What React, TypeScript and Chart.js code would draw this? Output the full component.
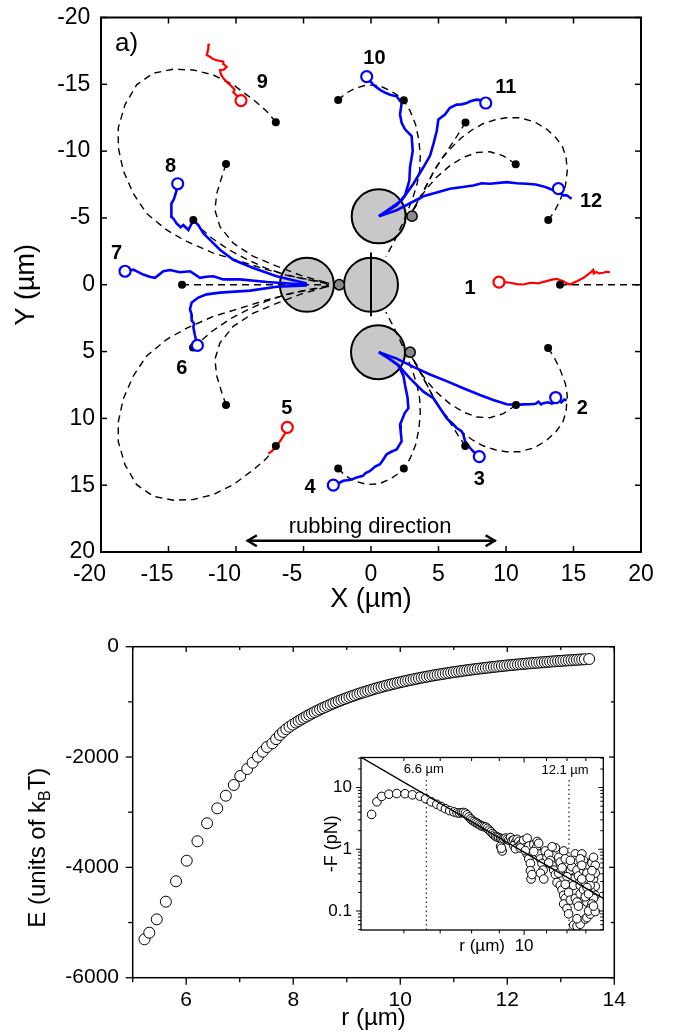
import React, { useEffect, useRef } from 'react';
import { Chart, registerables } from 'chart.js';

Chart.register(...registerables);

const SANS = '"Liberation Sans", Arial, Helvetica, sans-serif';
Chart.defaults.font.family = SANS;
Chart.defaults.color = '#000';

// ================= Panel a) : trajectories =================
const axisTicksA = [-20, -15, -10, -5, 0, 5, 10, 15, 20];

const diskX = [0, -4.75, 0.57, 0.52];
const diskY = [0, 0, -5.12, 5.05];
const diskRadius = [2, 2, 2, 2];

const beadX = [-2.35, 3.04, 2.9];
const beadY = [0, -5.13, 5.05];
const beadRadius = [0.38, 0.38, 0.38];

const dividerLine = [[0, -2.42], [0, 2.35]];

const startDotX = [14, 13.13, 10.72, 7.0, 2.43, -2.43, -7.05, -10.74, -13.16, -14, -13.18, -10.74, -7.05, -2.43, 2.43, 6.98, 10.74, 13.12];
const startDotY = [0, -4.84, -9.02, -12.15, -13.8, -13.82, -12.17, -9.04, -4.84, 0, 4.7, 8.99, 12.07, 13.75, 13.75, 12.07, 9.0, 4.74];

// dashed (theoretical) paths
const dash1 = [[14, 0], [20, 0]];
const dash12b = [[13.13, -4.84], [13.6, -5.5], [14.0, -6.32], [14.4, -7.4], [14.54, -8.54], [14.45, -9.5], [14.2, -10.3], [13.7, -11.0], [13.0, -11.65], [12.1, -12.2], [11.0, -12.5], [10.0, -12.5], [9.2, -12.35], [8.3, -12.05], [7.5, -11.6], [6.7, -11.0], [6.0, -10.3], [5.3, -9.5], [4.7, -8.6], [4.2, -7.6], [3.8, -6.8], [3.4, -6.0], [3.05, -5.45]];
const dash12a = [[10.72, -9.02], [9.8, -9.65], [8.81, -9.95], [7.83, -9.9], [6.84, -9.53], [5.85, -8.91], [4.86, -8.05], [4.12, -7.19], [3.5, -6.32], [3.1, -5.55]];
const dash11 = [[7.0, -12.15], [6.6, -11.5], [6.1, -10.7], [5.5, -9.8], [4.9, -8.9], [4.35, -7.9], [3.85, -6.95], [3.4, -6.1], [3.05, -5.5]];
const dash10 = [[-2.43, -13.82], [-1.9, -14.3], [-1.2, -14.7], [-0.3, -14.95], [0.6, -14.9], [1.4, -14.55], [2.0, -14.15], [2.43, -13.8], [2.9, -13.0], [3.3, -12.0], [3.55, -10.8], [3.65, -9.6], [3.6, -8.5], [3.4, -7.5], [3.1, -6.5], [2.75, -5.6], [2.3, -4.5], [1.75, -3.3], [1.1, -2.1]];
const dash9 = [[-7.05, -12.17], [-7.73, -12.99], [-8.72, -13.85], [-10.2, -14.96], [-11.68, -15.7], [-13.16, -16.07], [-14.64, -16.13], [-16.13, -15.83], [-17.36, -14.96], [-18.22, -13.48], [-18.72, -11.75], [-18.72, -10.27], [-18.35, -8.54], [-17.6, -6.81], [-16.62, -5.33], [-15.14, -4.1], [-13.65, -3.24], [-11.68, -2.37], [-9.7, -1.76], [-7.73, -1.13], [-5.5, -0.55], [-3.1, -0.12]];
const dash8b = [[-10.74, -9.04], [-11.06, -8.05], [-11.43, -6.81], [-11.56, -5.58], [-11.19, -4.35], [-10.2, -3.11], [-8.72, -2.13], [-6.99, -1.39], [-5.2, -0.7], [-3.1, -0.1]];
const dash8a = [[-13.16, -4.84], [-12.6, -4.2], [-11.8, -3.5], [-10.5, -2.6], [-9.2, -1.9], [-7.8, -1.25], [-6.2, -0.7], [-3.1, -0.05]];
const dash7 = [[-14, 0], [-3.1, 0]];
const dash6a = [[-13.18, 4.7], [-12.6, 4.2], [-11.8, 3.5], [-10.5, 2.6], [-9.2, 1.9], [-7.8, 1.25], [-6.2, 0.7], [-3.1, 0.05]];
const dash6b = [[-10.74, 8.99], [-11.06, 8.05], [-11.43, 6.81], [-11.56, 5.58], [-11.19, 4.35], [-10.2, 3.11], [-8.72, 2.13], [-6.99, 1.39], [-5.2, 0.7], [-3.1, 0.1]];
const dash5 = [[-7.05, 12.07], [-7.73, 12.99], [-8.72, 13.85], [-10.2, 14.96], [-11.68, 15.7], [-13.16, 16.07], [-14.64, 16.13], [-16.13, 15.83], [-17.36, 14.96], [-18.22, 13.48], [-18.72, 11.75], [-18.72, 10.27], [-18.35, 8.54], [-17.6, 6.81], [-16.62, 5.33], [-15.14, 4.1], [-13.65, 3.24], [-11.68, 2.37], [-9.7, 1.76], [-7.73, 1.13], [-5.5, 0.55], [-3.1, 0.12]];
const dash4 = [[-2.43, 13.75], [-1.9, 14.3], [-1.2, 14.7], [-0.3, 14.95], [0.6, 14.9], [1.4, 14.55], [2.0, 14.15], [2.43, 13.75], [2.9, 13.0], [3.3, 12.0], [3.55, 10.8], [3.65, 9.6], [3.6, 8.5], [3.4, 7.5], [3.1, 6.5], [2.75, 5.6], [2.3, 4.5], [1.75, 3.3], [1.1, 2.05]];
const dash3 = [[6.98, 12.07], [6.6, 11.5], [6.1, 10.7], [5.5, 9.8], [4.9, 8.9], [4.35, 7.9], [3.85, 6.95], [3.4, 6.1], [3.05, 5.45]];
const dash2a = [[10.74, 9.0], [9.8, 9.65], [8.81, 9.95], [7.83, 9.9], [6.84, 9.53], [5.85, 8.91], [4.86, 8.05], [4.12, 7.19], [3.5, 6.32], [3.05, 5.45]];
const dash2b = [[13.12, 4.74], [13.6, 5.5], [14.0, 6.32], [14.4, 7.4], [14.54, 8.3], [14.45, 9.5], [14.2, 10.3], [13.7, 11.0], [13.0, 11.65], [12.1, 12.2], [11.0, 12.5], [10.0, 12.5], [9.2, 12.35], [8.3, 12.05], [7.5, 11.6], [6.7, 11.0], [6.0, 10.3], [5.3, 9.5], [4.7, 8.6], [4.2, 7.6], [3.8, 6.8], [3.4, 6.0], [3.0, 5.4]];

// measured trajectories
const traj1 = [[9.48, -0.2], [9.9, -0.2], [10.3, -0.15], [10.8, -0.05], [11.3, -0.02], [11.7, -0.12], [12.0, -0.15], [12.4, -0.1], [12.8, -0.22], [13.0, -0.27], [13.4, -0.38], [13.75, -0.44], [14.0, -0.35], [14.25, -0.27], [14.5, -0.1], [14.75, -0.02], [15.0, -0.15], [15.25, -0.27], [15.5, -0.4], [15.75, -0.52], [16.1, -0.8], [16.3, -0.95], [16.45, -1.1], [16.5, -0.85], [16.7, -0.95], [16.9, -0.85], [17.2, -0.9], [17.45, -0.97], [17.7, -0.94]];
const traj5 = [[-6.2, 10.67], [-6.35, 11.1], [-6.6, 11.5], [-6.9, 11.95], [-7.1, 12.2], [-7.35, 12.45], [-7.6, 12.64]];
const traj9 = [[-9.63, -13.78], [-9.9, -14.1], [-10.2, -14.4], [-10.1, -14.6], [-10.44, -14.96], [-10.7, -15.2], [-10.94, -15.46], [-11.1, -15.7], [-11.19, -16.07], [-10.9, -16.1], [-10.69, -16.3], [-10.9, -16.5], [-10.94, -16.7], [-11.2, -16.75], [-11.43, -16.8], [-11.7, -16.9], [-11.93, -17.06], [-12.17, -17.2], [-12.1, -17.43], [-12.05, -17.7], [-12.05, -17.93], [-11.93, -18.0]];
const traj2 = [[0.59, 5.04], [1.9, 5.53], [3.14, 6.15], [4.37, 6.72], [5.6, 7.21], [6.84, 7.75], [8.07, 8.25], [9.06, 8.62], [10.05, 8.94], [10.79, 8.99], [11.3, 8.95], [11.78, 8.94], [12.2, 8.9], [12.4, 8.75], [12.6, 8.95], [12.77, 8.86], [13.1, 8.8], [13.4, 8.9], [13.75, 8.74], [13.9, 8.6], [14.1, 8.8], [14.3, 8.6], [14.5, 8.62]];
const traj3 = [[0.59, 5.04], [1.3, 5.5], [2.02, 6.02], [2.89, 7.01], [3.88, 8.0], [4.62, 8.49], [5.11, 9.24], [5.6, 9.98], [6.35, 10.72], [6.7, 10.95], [6.84, 11.21], [6.96, 11.7], [7.33, 12.2], [7.6, 12.5], [7.83, 12.69], [8.02, 12.86]];
const traj4 = [[0.59, 5.04], [1.3, 5.5], [2.02, 6.02], [2.4, 6.8], [2.52, 7.5], [2.7, 8.4], [2.77, 9.24], [2.5, 9.6], [2.15, 10.47], [2.2, 11.0], [2.27, 11.7], [1.9, 12.32], [1.5, 12.5], [1.16, 12.69], [0.9, 13.1], [0.67, 13.43], [0.3, 13.6], [-0.07, 13.93], [-0.4, 14.1], [-0.6, 14.3], [-1.06, 14.42], [-1.5, 14.6], [-2.05, 14.67], [-2.4, 14.85], [-2.79, 14.99]];
const traj6 = [[-4.76, 0.05], [-6.99, 0.15], [-8.96, 0.44], [-11.19, 0.59], [-12.17, 0.72], [-12.79, 0.96], [-13.28, 1.33], [-13.41, 1.83], [-13.3, 2.2], [-13.28, 2.69], [-13.1, 2.9], [-13.16, 3.19], [-13.04, 3.8], [-12.86, 4.54]];
const traj7 = [[-4.76, 0], [-7.7, -0.2], [-9.7, -0.4], [-10.94, -0.4], [-11.68, -0.64], [-12.2, -0.6], [-12.67, -0.52], [-13.4, -1.01], [-14.15, -0.94], [-14.9, -1.1], [-15.38, -1.01], [-16.0, -0.52], [-16.4, -0.6], [-16.87, -0.76], [-17.6, -1.13], [-18.22, -1.01]];
const traj8 = [[-4.76, -0.1], [-6.99, -0.64], [-8.72, -1.26], [-10.2, -1.87], [-11.19, -2.62], [-11.93, -3.36], [-12.42, -3.85], [-12.79, -4.47], [-13.16, -4.84], [-13.53, -4.1], [-13.9, -4.47], [-14.1, -4.3], [-14.4, -4.59], [-14.6, -4.9], [-14.77, -5.09], [-14.8, -5.6], [-14.77, -6.07], [-14.6, -6.4], [-14.4, -7.06], [-14.32, -7.56]];
const traj10 = [[0.59, -5.13], [1.9, -5.95], [2.52, -6.69], [2.84, -7.8], [2.89, -8.79], [3.09, -10.02], [3.01, -11.13], [2.52, -11.63], [2.27, -12.12], [2.15, -12.74], [2.27, -13.6], [1.9, -14.1], [1.41, -14.22], [1.0, -14.4], [0.67, -14.59], [0.17, -14.96], [-0.32, -15.58]];
const traj11 = [[0.59, -5.13], [2.27, -6.32], [3.14, -7.56], [3.88, -8.79], [4.37, -9.65], [4.62, -10.52], [4.87, -11.51], [4.99, -12.37], [5.48, -12.74], [5.85, -13.24], [6.35, -13.48], [6.7, -13.5], [7.09, -13.6], [7.4, -13.75], [7.83, -13.85], [8.2, -13.8], [8.5, -13.6]];
const traj12 = [[0.59, -5.13], [1.9, -5.58], [3.88, -6.62], [5.85, -7.19], [7.58, -7.43], [8.2, -7.6], [8.81, -7.56], [10.05, -7.68], [10.8, -7.6], [11.53, -7.56], [12.2, -7.5], [12.77, -7.36], [13.2, -7.2], [13.51, -7.06], [13.9, -6.9], [14.25, -6.69], [14.5, -6.7], [14.86, -6.44]];

const openBlueX = [13.68, 8.02, -2.79, -12.86, -18.22, -14.32, -0.32, 8.5, 13.88];
const openBlueY = [8.44, 12.86, 14.99, 4.54, -1.01, -7.56, -15.58, -13.6, -7.19];
const openRedX = [9.48, -6.2, -9.63];
const openRedY = [-0.2, 10.67, -13.78];

const labelText = ['1', '2', '3', '4', '5', '6', '7', '8', '9', '10', '11', '12'];
const labelX = [7.33, 15.65, 8.02, -4.52, -6.24, -14.02, -18.84, -14.84, -8.05, 0.25, 9.98, 16.3];
const labelY = [0.25, 9.24, 14.54, 15.16, 9.24, 6.27, -2.37, -8.84, -15.16, -16.94, -14.77, -6.25];

const panelTag = 'a)';
const panelTagX = -18.1;
const panelTagY = -18.05;

const arrowX = [-9.2, 9.23];
const arrowY = 19.16;
const arrowText = 'rubbing direction';
const arrowTextX = -0.07;
const arrowTextY = 18.1;

// ================= Panel b) : energy =================
const energyR = [5.22, 5.31, 5.45, 5.62, 5.81, 6.01, 6.21, 6.39, 6.58, 6.74, 6.89, 7.01, 7.14, 7.24, 7.34, 7.43, 7.51, 7.61, 7.68, 7.75, 7.81, 7.87, 7.93, 7.99, 8.05, 8.10, 8.15, 8.20, 8.25, 8.30, 8.35, 8.40, 8.45, 8.50, 8.55, 8.60, 8.65, 8.70, 8.75, 8.80, 8.85, 8.90, 8.95, 9.00, 9.05, 9.10, 9.15, 9.20, 9.25, 9.30, 9.35, 9.40, 9.45, 9.50, 9.55, 9.60, 9.65, 9.70, 9.75, 9.80, 9.85, 9.90, 9.95, 10.00, 10.05, 10.10, 10.15, 10.20, 10.25, 10.30, 10.35, 10.40, 10.45, 10.50, 10.55, 10.60, 10.65, 10.70, 10.75, 10.80, 10.85, 10.90, 10.95, 11.00, 11.05, 11.10, 11.15, 11.20, 11.25, 11.30, 11.35, 11.40, 11.45, 11.50, 11.55, 11.60, 11.65, 11.70, 11.75, 11.80, 11.85, 11.90, 11.95, 12.00, 12.05, 12.10, 12.15, 12.20, 12.25, 12.30, 12.35, 12.40, 12.45, 12.50, 12.55, 12.60, 12.65, 12.70, 12.75, 12.80, 12.85, 12.90, 12.95, 13.00, 13.05, 13.10, 13.15, 13.20, 13.25, 13.30, 13.35, 13.40, 13.45, 13.53];
const energyE = [-5304, -5184, -4942, -4622, -4252, -3879, -3527, -3201, -2930, -2701, -2507, -2344, -2217, -2103, -1994, -1903, -1818, -1751, -1675, -1600, -1545, -1495, -1450, -1412, -1376, -1346, -1318, -1290, -1263, -1236, -1210, -1185, -1161, -1137, -1114, -1092, -1070, -1048, -1027, -1007, -987, -968, -949, -931, -913, -896, -879, -862, -846, -830, -815, -800, -785, -770, -756, -743, -729, -716, -703, -691, -679, -667, -655, -644, -633, -622, -611, -601, -591, -581, -571, -561, -552, -543, -534, -525, -516, -508, -500, -492, -484, -476, -468, -461, -454, -447, -440, -433, -426, -420, -413, -407, -401, -395, -389, -383, -377, -372, -366, -361, -355, -350, -345, -340, -335, -330, -325, -321, -316, -312, -307, -303, -299, -295, -291, -287, -283, -279, -275, -271, -267, -264, -260, -257, -253, -250, -247, -244, -240, -237, -234, -231, -228, -223];
const energyXTicks = [6, 8, 10, 12, 14];
const energyXMinor = [5, 7, 9, 11, 13];
const energyYTicks = [0, -2000, -4000, -6000];
const energyYMinor = [-1000, -3000, -5000];

// ================= Inset : force (log-log) =================
const forceR = [5.23, 5.35, 5.46, 5.63, 5.82, 6.03, 6.22, 6.42, 6.58, 6.74, 6.90, 7.03, 7.16, 7.29, 7.42, 7.52, 7.60, 7.67, 7.73, 7.79, 7.85, 7.91, 7.97, 8.02, 8.08, 8.14, 8.20, 8.26, 8.32, 8.38, 8.44, 8.50, 8.56, 8.62, 8.68, 8.74, 8.80,
  8.86, 8.92, 8.98, 9.05, 9.11, 9.05, 9.11, 9.08, 9.17, 9.24, 9.30, 9.37, 9.44, 9.50, 9.57, 9.64, 9.57, 9.64, 9.71, 9.78, 9.84, 9.91, 9.98, 10.05, 10.13, 10.20, 10.27, 10.27, 10.30, 10.34, 10.13, 10.20, 9.84, 10.05,
  10.42, 10.54, 10.64, 10.72, 10.79, 10.84, 10.72, 10.87, 10.94, 10.57, 11.02, 10.42, 10.64, 11.10, 11.18, 11.26, 11.34, 11.42, 11.50, 11.58, 11.66, 11.42, 11.58, 11.26, 11.10,
  11.66, 11.75, 11.83, 11.91, 11.83, 12.00, 12.08, 12.17, 12.25, 12.00, 12.34, 12.43, 12.34, 11.75, 11.83, 11.91, 12.00, 11.91, 12.08, 12.17, 12.08, 12.25, 12.17,
  12.43, 12.52, 12.60, 12.52, 12.60, 12.69, 12.69, 12.34, 12.52, 12.69, 12.52, 12.97, 13.06, 13.24, 13.43, 13.43, 13.53, 13.34, 13.53, 13.24, 13.06, 12.87, 12.97,
  12.78, 12.87, 12.97, 13.06, 13.15, 13.24, 13.34, 13.43, 13.53, 13.53, 13.43, 13.34, 13.24, 13.15, 13.53, 13.43, 12.78, 12.87, 12.97, 13.06, 13.15, 13.24, 13.34, 12.69, 12.78];
const forceF = [3.67, 5.88, 7.19, 7.80, 8.00, 7.95, 7.62, 7.27, 6.61, 5.88, 5.35, 4.92, 4.54, 4.23, 4.03, 3.90, 3.86, 3.92, 3.95, 3.85, 3.62, 3.35, 3.12, 2.95, 2.82, 2.72, 2.62, 2.52, 2.42, 2.36, 2.32, 2.28, 2.18, 2.04, 1.92, 1.80, 1.70,
  1.62, 1.58, 1.55, 1.50, 1.45, 1.12, 0.94, 1.04, 1.48, 1.52, 1.45, 1.40, 1.55, 1.38, 1.42, 1.30, 1.15, 1.02, 1.45, 1.34, 1.19, 1.25, 1.40, 1.06, 0.84, 0.70, 0.59, 0.45, 0.33, 0.39, 1.51, 1.13, 1.05, 0.95,
  1.19, 1.06, 0.84, 0.70, 0.59, 0.46, 0.41, 0.33, 0.94, 1.34, 0.74, 0.92, 1.25, 0.84, 0.66, 0.55, 0.46, 0.39, 0.29, 0.74, 0.62, 1.06, 0.41, 1.10, 0.60,
  0.26, 0.22, 0.18, 0.16, 0.13, 0.11, 0.41, 0.46, 0.33, 0.59, 0.26, 0.84, 0.66, 0.50, 0.94, 0.70, 0.36, 0.27, 0.20, 0.15, 0.09, 0.52, 0.66,
  0.16, 0.14, 0.12, 0.46, 0.37, 0.26, 0.19, 0.059, 0.057, 0.061, 0.075, 0.074, 0.078, 0.089, 0.46, 0.33, 0.25, 0.20, 0.18, 0.60, 0.14, 0.46, 0.29,
  0.84, 0.66, 0.52, 0.41, 0.33, 0.26, 0.60, 0.74, 0.55, 0.41, 0.16, 0.13, 0.11, 0.10, 0.098, 0.12, 0.33, 0.22, 0.17, 0.24, 0.19, 0.35, 0.45, 0.70, 0.55];
const powerLaw = [[5, 31], [14, 0.16]];
const markerR = [6.6, 12.1];
const markerTop = 14;
const markerBottom = 0.0492;
const noteText = ['6.6 \u00b5m', '12.1 \u00b5m'];
const noteR = [6.53, 11.9];
const noteF = [19.8, 18.9];
const insetXMinor = [6, 7, 8, 9, 11, 12, 13];
const insetXMajor = [10];
const insetYMajor = [0.1, 1, 10];
const insetYMinor = [0.05, 0.06, 0.07, 0.08, 0.09, 0.2, 0.3, 0.4, 0.5, 0.6, 0.7, 0.8, 0.9, 2, 3, 4, 5, 6, 7, 8, 9, 20, 30];

// ---------- helpers ----------
const pts = (a: number[][]) => a.map(([x, y]) => ({ x, y }));
const zip = (xs: number[], ys: number[]) => xs.map((x, i) => ({ x, y: ys[i] }));
const radiusFromScale = (radii: number[]) => (ctx: any) => {
  const sx = ctx.chart.scales && ctx.chart.scales.x;
  if (!sx) return 0;
  return Math.abs(sx.getPixelForValue(radii[ctx.dataIndex] || 0) - sx.getPixelForValue(0));
};
function seg(ctx: CanvasRenderingContext2D, x1: number, y1: number, x2: number, y2: number) {
  ctx.beginPath();
  ctx.moveTo(x1, y1);
  ctx.lineTo(x2, y2);
  ctx.stroke();
}
const noGrid = { display: false, drawTicks: false };
const noBorder = { display: false };

// ---------- plugins ----------
const panelAPlugin = {
  id: 'panelA',
  afterDatasetsDraw(chart: any) {
    const { ctx, chartArea: a, scales } = chart;
    const x = scales.x, y = scales.y;
    ctx.save();
    ctx.strokeStyle = '#000';
    ctx.lineWidth = 2;
    ctx.strokeRect(a.left, a.top, a.right - a.left, a.bottom - a.top);
    ctx.lineWidth = 1.5;
    axisTicksA.forEach((v) => {
      const px = x.getPixelForValue(v);
      const py = y.getPixelForValue(v);
      seg(ctx, px, a.bottom, px, a.bottom - 6);
      seg(ctx, px, a.top, px, a.top + 6);
      seg(ctx, a.left, py, a.left + 6, py);
      seg(ctx, a.right, py, a.right - 6, py);
    });
    ctx.fillStyle = '#000';
    ctx.textAlign = 'center';
    ctx.textBaseline = 'middle';
    ctx.font = `bold 20px ${SANS}`;
    labelText.forEach((t, i) => ctx.fillText(t, x.getPixelForValue(labelX[i]), y.getPixelForValue(labelY[i])));
    ctx.font = `26px ${SANS}`;
    ctx.fillText(panelTag, x.getPixelForValue(panelTagX), y.getPixelForValue(panelTagY));
    // rubbing direction arrow
    const ax1 = x.getPixelForValue(arrowX[0]);
    const ax2 = x.getPixelForValue(arrowX[1]);
    const ay = y.getPixelForValue(arrowY);
    ctx.lineWidth = 2.5;
    ctx.lineJoin = 'miter';
    seg(ctx, ax1, ay, ax2, ay);
    ctx.beginPath();
    ctx.moveTo(ax1 + 10, ay - 5.5);
    ctx.lineTo(ax1 + 1, ay);
    ctx.lineTo(ax1 + 10, ay + 5.5);
    ctx.stroke();
    ctx.beginPath();
    ctx.moveTo(ax2 - 10, ay - 5.5);
    ctx.lineTo(ax2 - 1, ay);
    ctx.lineTo(ax2 - 10, ay + 5.5);
    ctx.stroke();
    ctx.font = `22px ${SANS}`;
    ctx.fillText(arrowText, x.getPixelForValue(arrowTextX), y.getPixelForValue(arrowTextY));
    ctx.restore();
  },
};

const panelBPlugin = {
  id: 'panelB',
  afterDatasetsDraw(chart: any) {
    const { ctx, chartArea: a, scales } = chart;
    const x = scales.x, y = scales.y;
    ctx.save();
    ctx.strokeStyle = '#000';
    ctx.lineWidth = 1.5;
    ctx.strokeRect(a.left, a.top, a.right - a.left, a.bottom - a.top);
    ctx.lineWidth = 1.3;
    const xt = (v: number, len: number) => {
      const px = x.getPixelForValue(v);
      seg(ctx, px, a.bottom, px, a.bottom + len);
      seg(ctx, px, a.top, px, a.top + len * 0.75);
    };
    const yt = (v: number, len: number) => {
      const py = y.getPixelForValue(v);
      seg(ctx, a.left, py, a.left - len, py);
      seg(ctx, a.right, py, a.right - len * 0.75, py);
    };
    energyXTicks.forEach((v) => xt(v, 7));
    energyXMinor.forEach((v) => xt(v, 4.5));
    energyYTicks.forEach((v) => yt(v, 7));
    energyYMinor.forEach((v) => yt(v, 4.5));
    // y title with subscript
    ctx.translate(a.left - 94, a.top + 201);
    ctx.rotate(-Math.PI / 2);
    ctx.fillStyle = '#000';
    ctx.textBaseline = 'middle';
    ctx.textAlign = 'left';
    const parts = [
      { t: 'E (units of k', f: `24px ${SANS}`, dy: 0 },
      { t: 'B', f: `16px ${SANS}`, dy: 7 },
      { t: 'T)', f: `24px ${SANS}`, dy: 0 },
    ];
    let total = 0;
    parts.forEach((p) => { ctx.font = p.f; total += ctx.measureText(p.t).width; });
    let cx = -total / 2;
    parts.forEach((p) => {
      ctx.font = p.f;
      ctx.fillText(p.t, cx, p.dy);
      cx += ctx.measureText(p.t).width;
    });
    ctx.restore();
  },
};

const insetPlugin = {
  id: 'inset',
  beforeDatasetsDraw(chart: any) {
    const { ctx, chartArea: a } = chart;
    ctx.save();
    ctx.fillStyle = '#fff';
    ctx.fillRect(a.left, a.top, a.right - a.left, a.bottom - a.top);
    ctx.restore();
  },
  afterDatasetsDraw(chart: any) {
    const { ctx, chartArea: a, scales } = chart;
    const x = scales.x, y = scales.y;
    ctx.save();
    ctx.strokeStyle = '#000';
    ctx.lineWidth = 1.3;
    ctx.strokeRect(a.left, a.top, a.right - a.left, a.bottom - a.top);
    ctx.lineWidth = 1;
    const xt = (v: number, len: number) => {
      const px = x.getPixelForValue(v);
      seg(ctx, px, a.bottom, px, a.bottom + len);
      seg(ctx, px, a.top, px, a.top + len);
    };
    const yt = (v: number, len: number) => {
      const py = y.getPixelForValue(v);
      seg(ctx, a.left, py, a.left - len, py);
      seg(ctx, a.right, py, a.right - len, py);
    };
    insetXMajor.forEach((v) => xt(v, 5));
    insetXMinor.forEach((v) => xt(v, 3.5));
    insetYMajor.forEach((v) => yt(v, 5));
    insetYMinor.forEach((v) => yt(v, 3));
    ctx.fillStyle = '#000';
    ctx.font = `13px ${SANS}`;
    ctx.textAlign = 'center';
    ctx.textBaseline = 'middle';
    noteText.forEach((t, i) => ctx.fillText(t, x.getPixelForValue(noteR[i]), y.getPixelForValue(noteF[i])));
    ctx.restore();
  },
};

// ---------- configs ----------
function panelAConfig(): any {
  const dashStyle = { showLine: true, pointRadius: 0, borderColor: '#000', borderWidth: 1.4, borderDash: [7, 5], order: 90 };
  const dashed = [dash1, dash2a, dash2b, dash3, dash4, dash5, dash6a, dash6b, dash7, dash8a, dash8b, dash9, dash10, dash11, dash12a, dash12b];
  const blue = [traj2, traj3, traj4, traj6, traj7, traj8, traj10, traj11, traj12];
  const red = [traj1, traj5, traj9];
  return {
    type: 'scatter',
    data: {
      datasets: [
        { label: 'start red', data: zip(openRedX, openRedY), pointRadius: 5.5, pointBorderWidth: 2.2, pointBorderColor: '#ff0000', pointBackgroundColor: '#fff', order: 1 },
        { label: 'start blue', data: zip(openBlueX, openBlueY), pointRadius: 5.5, pointBorderWidth: 2.2, pointBorderColor: '#0000ff', pointBackgroundColor: '#fff', order: 1 },
        { label: 'theory start', data: zip(startDotX, startDotY), pointRadius: 4, pointBorderWidth: 0, pointBackgroundColor: '#000', pointBorderColor: '#000', order: 2 },
        ...red.map((t, i) => ({ label: `red ${i}`, data: pts(t), showLine: true, pointRadius: 0, borderColor: '#ff0000', borderWidth: 2.2, order: 3 })),
        ...blue.map((t, i) => ({ label: `blue ${i}`, data: pts(t), showLine: true, pointRadius: 0, borderColor: '#0000ff', borderWidth: 2.6, order: 3 })),
        { label: 'beads', data: zip(beadX, beadY), pointRadius: radiusFromScale(beadRadius), pointBackgroundColor: '#8a8a8a', pointBorderColor: '#000', pointBorderWidth: 1.5, order: 80 },
        ...dashed.map((d, i) => ({ label: `theory ${i}`, data: pts(d), ...dashStyle })),
        { label: 'divider', data: pts(dividerLine), showLine: true, pointRadius: 0, borderColor: '#000', borderWidth: 2, order: 95 },
        { label: 'disks', data: zip(diskX, diskY), pointRadius: radiusFromScale(diskRadius), pointBackgroundColor: '#c8c8c8', pointBorderColor: '#000', pointBorderWidth: 2, order: 100 },
      ],
    },
    options: {
      responsive: false,
      animation: false,
      events: [],
      layout: { padding: { top: 12, right: 33, left: 0, bottom: 0 } },
      plugins: { legend: { display: false }, tooltip: { enabled: false } },
      scales: {
        x: {
          type: 'linear', min: -20, max: 20,
          grid: noGrid, border: noBorder,
          afterBuildTicks: (s: any) => { s.ticks = axisTicksA.map((v) => ({ value: v })); },
          ticks: { padding: 11, maxRotation: 0, autoSkip: false, color: '#000', font: { family: SANS, size: 23, lineHeight: 1 },
            callback: (v: any) => (Number(v) < 0 ? `${v}\u2003` : `${v}`) },
          title: { display: true, text: 'X (\u00b5m)', color: '#000', font: { family: SANS, size: 27, lineHeight: 1 }, padding: { top: 0, bottom: 6.5 } },
          afterFit: (s: any) => { s.height = 68; },
        },
        y: {
          type: 'linear', min: -20, max: 20, reverse: true,
          grid: noGrid, border: noBorder,
          afterBuildTicks: (s: any) => { s.ticks = axisTicksA.map((v) => ({ value: v })); },
          ticks: { padding: 6, color: '#000', font: { family: SANS, size: 23, lineHeight: 1 },
            callback: (v: any) => (Number(v) < 0 ? `${v}\u2009` : `${v}`) },
          title: { display: true, text: 'Y (\u00b5m)', color: '#000', font: { family: SANS, size: 27, lineHeight: 1 }, padding: { top: 13.5, bottom: 0 } },
          afterFit: (s: any) => { s.width = 101; },
        },
      },
    },
    plugins: [panelAPlugin],
  };
}

function panelBConfig(): any {
  return {
    type: 'scatter',
    data: {
      datasets: [
        { label: 'E', data: zip(energyR, energyE), pointRadius: 5.5, pointBorderWidth: 1, pointBorderColor: '#000', pointBackgroundColor: '#fff' },
      ],
    },
    options: {
      responsive: false,
      animation: false,
      events: [],
      layout: { padding: { top: 26.7, right: 59.7, left: 0, bottom: 0 } },
      plugins: { legend: { display: false }, tooltip: { enabled: false } },
      scales: {
        x: {
          type: 'linear', min: 5, max: 14,
          grid: noGrid, border: noBorder,
          afterBuildTicks: (s: any) => { s.ticks = energyXTicks.map((v) => ({ value: v })); },
          ticks: { padding: 12, maxRotation: 0, autoSkip: false, color: '#000', font: { family: SANS, size: 21, lineHeight: 1 } },
          title: { display: true, text: 'r (\u00b5m)', color: '#000', font: { family: SANS, size: 24, lineHeight: 1 }, padding: { top: 0, bottom: 6 } },
          afterFit: (s: any) => { s.height = 58.3; },
        },
        y: {
          type: 'linear', min: -6000, max: 0,
          grid: noGrid, border: noBorder,
          afterBuildTicks: (s: any) => { s.ticks = energyYTicks.map((v) => ({ value: v })); },
          ticks: { padding: 13.7, color: '#000', font: { family: SANS, size: 21, lineHeight: 1 }, callback: (v: any) => `${v}` },
          afterFit: (s: any) => { s.width = 132.7; },
        },
      },
    },
    plugins: [panelBPlugin],
  };
}

function insetConfig(): any {
  return {
    type: 'scatter',
    data: {
      datasets: [
        { label: 'power law', data: pts(powerLaw), showLine: true, pointRadius: 0, borderColor: '#000', borderWidth: 1.4, order: 1 },
        { label: '-F', data: zip(forceR, forceF), pointRadius: 4.3, pointBorderWidth: 1, pointBorderColor: '#000', pointBackgroundColor: '#fff', order: 2 },
        ...markerR.map((r, i) => ({ label: `marker ${i}`, data: [{ x: r, y: markerBottom }, { x: r, y: markerTop }], showLine: true, pointRadius: 0, borderColor: '#222', borderWidth: 1.2, borderDash: [1.5, 3], order: 3 })),
      ],
    },
    options: {
      responsive: false,
      animation: false,
      events: [],
      layout: { padding: { top: 8.3, right: 16.7, left: 0, bottom: 0 } },
      plugins: { legend: { display: false }, tooltip: { enabled: false } },
      scales: {
        x: {
          type: 'logarithmic', min: 5, max: 14,
          grid: noGrid, border: noBorder,
          afterBuildTicks: (s: any) => { s.ticks = insetXMajor.map((v) => ({ value: v })); },
          ticks: { padding: 8, maxRotation: 0, autoSkip: false, color: '#000', font: { family: SANS, size: 17, lineHeight: 1 }, callback: (v: any) => `${v}` },
          title: { display: true, text: 'r (\u00b5m)', color: '#000', font: { family: SANS, size: 17, lineHeight: 1 }, padding: { top: 0, bottom: 14.8 } },
          afterFit: (s: any) => { s.height = 40; },
        },
        y: {
          type: 'logarithmic', min: 0.0492, max: 30.7,
          grid: noGrid, border: noBorder,
          afterBuildTicks: (s: any) => { s.ticks = insetYMajor.map((v) => ({ value: v })); },
          ticks: { padding: 9, color: '#000', font: { family: SANS, size: 17, lineHeight: 1 }, callback: (v: any) => `${v}` },
          title: { display: true, text: '-F (pN)', color: '#000', font: { family: SANS, size: 18, lineHeight: 1 }, padding: { top: 23, bottom: 0 } },
          afterFit: (s: any) => { s.width = 61; },
        },
      },
    },
    plugins: [insetPlugin],
  };
}

export default function App() {
  const topRef = useRef<HTMLCanvasElement>(null);
  const bottomRef = useRef<HTMLCanvasElement>(null);
  const insetRef = useRef<HTMLCanvasElement>(null);

  useEffect(() => {
    const charts: Chart[] = [];
    if (topRef.current) charts.push(new Chart(topRef.current, panelAConfig()));
    if (bottomRef.current) charts.push(new Chart(bottomRef.current, panelBConfig()));
    if (insetRef.current) charts.push(new Chart(insetRef.current, insetConfig()));
    return () => charts.forEach((c) => c.destroy());
  }, []);

  return (
    <div style={{ position: 'absolute', left: 0, top: 0, width: 674, height: 1036, background: '#fff', overflow: 'hidden' }}>
      <canvas ref={topRef} width={674} height={620} style={{ position: 'absolute', left: 0, top: 0, width: 674, height: 620 }} />
      <canvas ref={bottomRef} width={674} height={416} style={{ position: 'absolute', left: 0, top: 620, width: 674, height: 416 }} />
      <canvas ref={insetRef} width={320} height={230} style={{ position: 'absolute', left: 300, top: 740, width: 320, height: 230 }} />
    </div>
  );
}
